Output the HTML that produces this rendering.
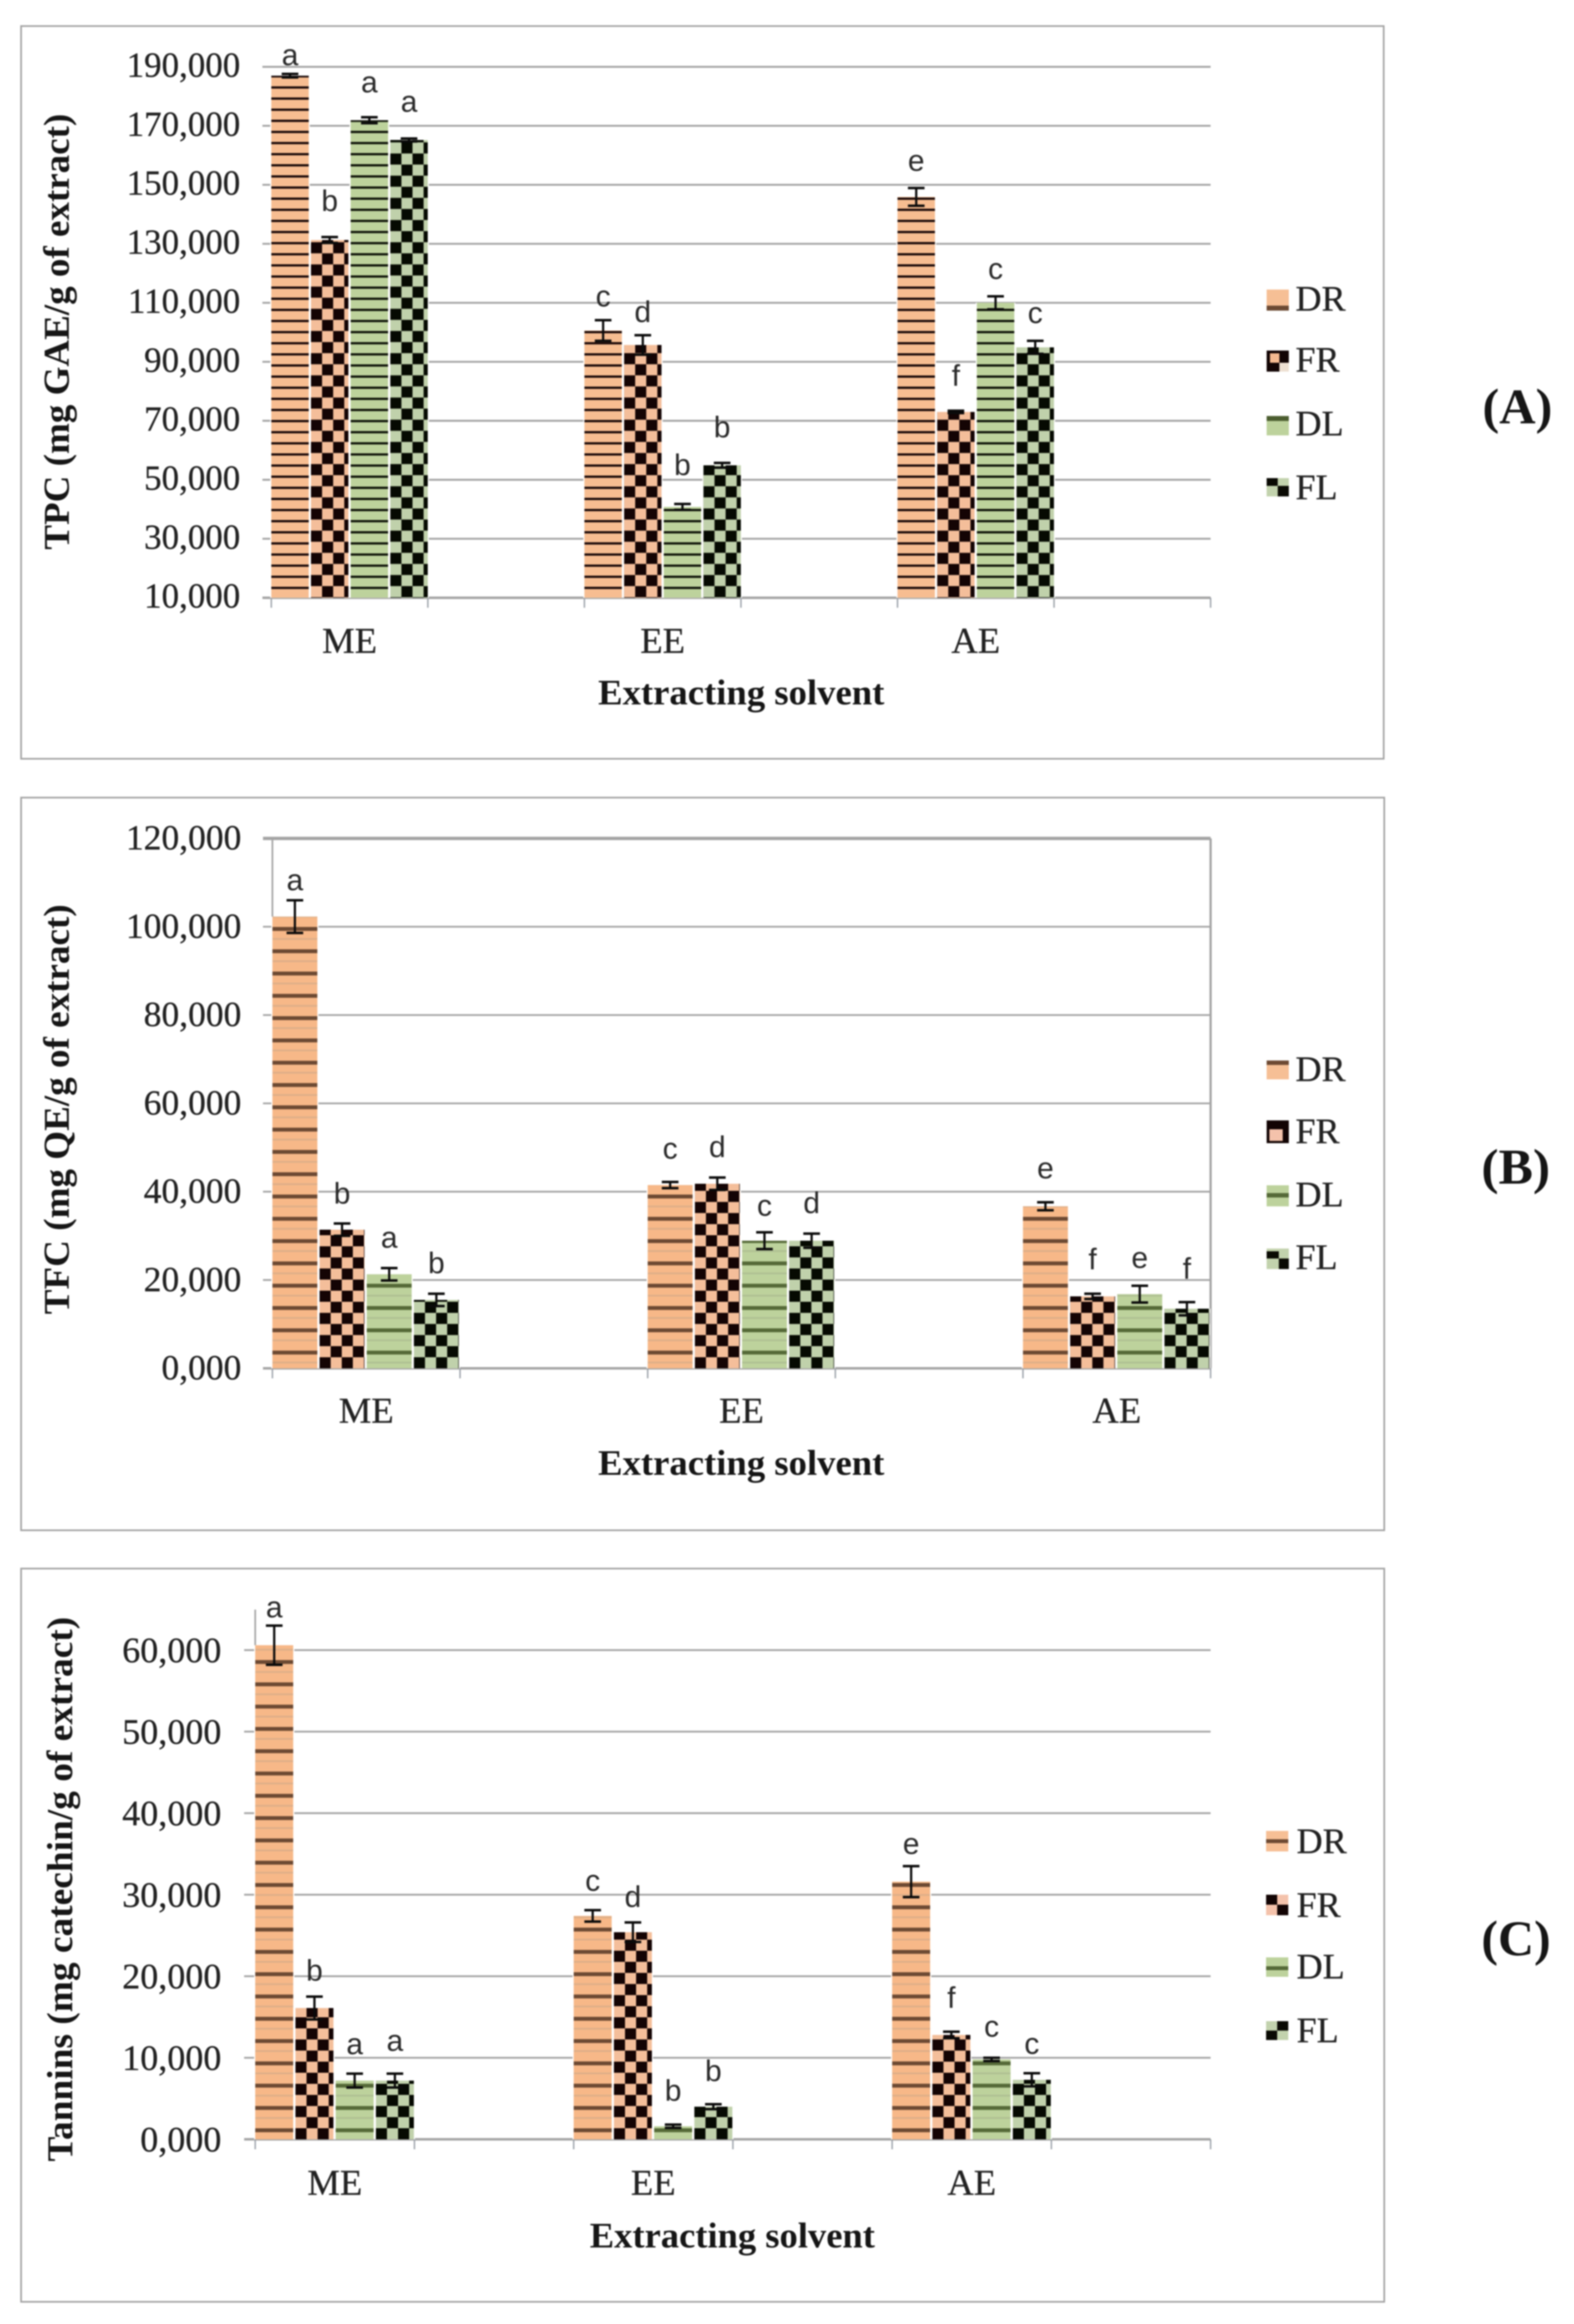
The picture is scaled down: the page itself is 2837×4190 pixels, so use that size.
<!DOCTYPE html>
<html lang="en">
<head>
<meta charset="utf-8">
<title>TPC, TFC and tannins by extracting solvent</title>
<style>
html,body{margin:0;padding:0;background:#fff;}
body{width:2837px;height:4190px;overflow:hidden;}
#figure{display:block;filter:blur(1.3px);}
.serif{font-family:"Liberation Serif",serif;fill:#222;stroke:#222;stroke-width:0.5;}
.bold{font-family:"Liberation Serif",serif;font-weight:bold;fill:#161616;}
.frame{fill:#fff;stroke:#a3a3a3;stroke-width:3;}
</style>
</head>
<body>
<svg id="figure" xmlns="http://www.w3.org/2000/svg" width="2837" height="4190" viewBox="0 0 2837 4190">
  <defs id="defs">
    <pattern id="stripe-a-DR" patternUnits="userSpaceOnUse" x="0" y="155.7" width="20" height="20.05"><rect width="20" height="20.05" fill="#f7bd91"/><rect width="20" height="4" fill="#160606"/></pattern>
    <pattern id="stripe-a-DL" patternUnits="userSpaceOnUse" x="0" y="155.7" width="20" height="20.05"><rect width="20" height="20.05" fill="#bdd29c"/><rect width="20" height="4" fill="#0c1006"/></pattern>
    <pattern id="stripe-b-DR" patternUnits="userSpaceOnUse" x="0" y="1711.5" width="20" height="40.2"><rect width="20" height="40.2" fill="#f7b888"/><rect y="20" width="20" height="3" fill="#dcae88"/><rect width="20" height="7" fill="#6d4a33"/></pattern>
    <pattern id="stripe-b-DL" patternUnits="userSpaceOnUse" x="0" y="1711.5" width="20" height="40.2"><rect width="20" height="40.2" fill="#bdd29c"/><rect y="20" width="20" height="3" fill="#aebf92"/><rect width="20" height="7" fill="#566a38"/></pattern>
    <pattern id="stripe-c-DR" patternUnits="userSpaceOnUse" x="0" y="3033.2" width="20" height="40.2"><rect width="20" height="40.2" fill="#f7b888"/><rect y="20" width="20" height="3" fill="#dcae88"/><rect width="20" height="7" fill="#6d4a33"/></pattern>
    <pattern id="stripe-c-DL" patternUnits="userSpaceOnUse" x="0" y="3033.2" width="20" height="40.2"><rect width="20" height="40.2" fill="#bdd29c"/><rect y="20" width="20" height="3" fill="#aebf92"/><rect width="20" height="7" fill="#566a38"/></pattern>
  </defs>

  <rect class="frame" x="38" y="47" width="2456" height="1321"/>
  <rect class="frame" x="38" y="1438" width="2457" height="1321"/>
  <rect class="frame" x="38" y="2828" width="2457" height="1322"/>

  <g id="panel-a"></g>
  <g id="panel-b"></g>
  <g id="panel-c"></g>

  <text class="bold" font-size="66" transform="translate(124,598) rotate(-90)" text-anchor="middle" textLength="786" lengthAdjust="spacingAndGlyphs">TPC (mg GAE/g of extract)</text>
  <text class="bold" font-size="66" transform="translate(124,2000) rotate(-90)" text-anchor="middle" textLength="739" lengthAdjust="spacingAndGlyphs">TFC (mg QE/g of extract)</text>
  <text class="bold" font-size="66" transform="translate(130,3406) rotate(-90)" text-anchor="middle" textLength="982" lengthAdjust="spacingAndGlyphs">Tannins (mg catechin/g of extract)</text>

  <text class="bold" font-size="65" x="1336" y="1270" text-anchor="middle" textLength="516" lengthAdjust="spacingAndGlyphs">Extracting solvent</text>
  <text class="bold" font-size="65" x="1336" y="2659" text-anchor="middle" textLength="516" lengthAdjust="spacingAndGlyphs">Extracting solvent</text>
  <text class="bold" font-size="65" x="1320" y="4052" text-anchor="middle" textLength="514" lengthAdjust="spacingAndGlyphs">Extracting solvent</text>

  <text class="bold" font-size="90" x="2672" y="763" textLength="126" lengthAdjust="spacingAndGlyphs">(A)</text>
  <text class="bold" font-size="90" x="2670" y="2134" textLength="124" lengthAdjust="spacingAndGlyphs">(B)</text>
  <text class="bold" font-size="90" x="2670" y="3525" textLength="125" lengthAdjust="spacingAndGlyphs">(C)</text>

  <g>
    <g><rect x="2283" y="522" width="40" height="38" fill="#f6bf95"/><rect x="2283" y="551" width="40" height="9" fill="#6d4a33"/><text class="serif" font-size="65" x="2335" y="560">DR</text></g>
    <g><rect x="2283" y="632" width="40" height="38" fill="#120404"/><rect x="2289" y="637" width="17" height="17" fill="#f4b990"/><rect x="2306" y="654" width="17" height="16" fill="#eee0d2"/><text class="serif" font-size="65" x="2335" y="670">FR</text></g>
    <g><rect x="2283" y="750" width="40" height="35" fill="#bdd29c"/><rect x="2283" y="750" width="40" height="9" fill="#4c5e30"/><text class="serif" font-size="65" x="2335" y="785">DL</text></g>
    <g><rect x="2283" y="862" width="40" height="33" fill="#c2d2ad"/><rect x="2283" y="862" width="20" height="14" fill="#0a0a04"/><rect x="2303" y="876" width="20" height="19" fill="#0a0a04"/><text class="serif" font-size="65" x="2335" y="900">FL</text></g>
  </g>
  <g>
    <g><rect x="2283" y="1912" width="40" height="34" fill="#f6bf95"/><rect x="2283" y="1912" width="40" height="8" fill="#6d4a33"/><text class="serif" font-size="65" x="2335" y="1949">DR</text></g>
    <g><rect x="2283" y="2020" width="40" height="41" fill="#120404"/><rect x="2288" y="2036" width="24" height="21" fill="#f4c2ab"/><text class="serif" font-size="65" x="2335" y="2061">FR</text></g>
    <g><rect x="2283" y="2137" width="40" height="38" fill="#bdd29c"/><rect x="2283" y="2151" width="40" height="8" fill="#566a38"/><text class="serif" font-size="65" x="2335" y="2175">DL</text></g>
    <g><rect x="2283" y="2251" width="40" height="37" fill="#c2d2ad"/><rect x="2283" y="2256" width="22" height="13" fill="#0a0a04"/><rect x="2305" y="2269" width="18" height="19" fill="#0a0a04"/><text class="serif" font-size="65" x="2335" y="2288">FL</text></g>
  </g>
  <g>
    <g><rect x="2282" y="3301" width="40" height="37" fill="#f6bf95"/><rect x="2282" y="3316" width="40" height="7" fill="#6d4a33"/><text class="serif" font-size="65" x="2337" y="3341">DR</text></g>
    <g><rect x="2282" y="3416" width="40" height="37" fill="#f4c2ab"/><rect x="2282" y="3416" width="20" height="18" fill="#120404"/><rect x="2302" y="3434" width="20" height="19" fill="#120404"/><text class="serif" font-size="65" x="2337" y="3456">FR</text></g>
    <g><rect x="2282" y="3529" width="40" height="35" fill="#bdd29c"/><rect x="2282" y="3545" width="40" height="7" fill="#566a38"/><text class="serif" font-size="65" x="2337" y="3567">DL</text></g>
    <g><rect x="2282" y="3644" width="40" height="34" fill="#c2d2ad"/><rect x="2302" y="3644" width="20" height="17" fill="#0a0a04"/><rect x="2282" y="3661" width="20" height="17" fill="#0a0a04"/><text class="serif" font-size="65" x="2337" y="3682">FL</text></g>
  </g>
</svg>

<script>
// ---- data ----
const categories = ['ME', 'EE', 'AE'];
const seriesNames = ['DR', 'FR', 'DL', 'FL'];

// Panel A: TPC
const tpcTicks = [10, 30, 50, 70, 90, 110, 130, 150, 170, 190];
const tpcTickLabels = ['10,000', '30,000', '50,000', '70,000', '90,000', '110,000', '130,000', '150,000', '170,000', '190,000'];
const tpcDR = [187.0, 100.6, 145.9];
const tpcFR = [131.3, 95.7, 73.0];
const tpcDL = [171.9, 40.8, 110.0];
const tpcFL = [165.2, 54.9, 94.9];
const tpcErrDR = [0.6, 3.5, 3.0];
const tpcErrFR = [1.0, 3.3, 0.4];
const tpcErrDL = [1.0, 1.0, 2.2];
const tpcErrFL = [0.5, 0.8, 2.2];
const tpcLettersDR = ['a', 'c', 'e'];
const tpcLettersFR = ['b', 'd', 'f'];
const tpcLettersDL = ['a', 'b', 'c'];
const tpcLettersFL = ['a', 'b', 'c'];

// Panel B: TFC
const tfcTicks = [0, 20, 40, 60, 80, 100, 120];
const tfcTickLabels = ['0,000', '20,000', '40,000', '60,000', '80,000', '100,000', '120,000'];
const tfcDR = [102.3, 41.5, 36.7];
const tfcFR = [31.4, 41.8, 16.3];
const tfcDL = [21.3, 28.9, 16.8];
const tfcFL = [15.5, 28.9, 13.5];
const tfcErrDR = [3.7, 0.7, 0.9];
const tfcErrFR = [1.4, 1.4, 0.6];
const tfcErrDL = [1.4, 1.9, 1.9];
const tfcErrFL = [1.4, 1.6, 1.5];
const tfcLettersDR = ['a', 'c', 'e'];
const tfcLettersFR = ['b', 'd', 'f'];
const tfcLettersDL = ['a', 'c', 'e'];
const tfcLettersFL = ['b', 'd', 'f'];

// Panel C: tannins
const tanTicks = [0, 10, 20, 30, 40, 50, 60];
const tanTickLabels = ['0,000', '10,000', '20,000', '30,000', '40,000', '50,000', '60,000'];
const tanDR = [60.6, 27.4, 31.6];
const tanFR = [16.1, 25.4, 12.8];
const tanDL = [7.2, 1.6, 9.8];
const tanFL = [7.2, 4.0, 7.3];
const tanErrDR = [2.4, 0.7, 1.9];
const tanErrFR = [1.4, 1.2, 0.4];
const tanErrDL = [0.85, 0.2, 0.2];
const tanErrFL = [0.85, 0.3, 0.8];
const tanLettersDR = ['a', 'c', 'e'];
const tanLettersFR = ['b', 'd', 'f'];
const tanLettersDL = ['a', 'b', 'c'];
const tanLettersFL = ['a', 'b', 'c'];

// ---- layout (pixels live here, not in the data arrays) ----
const SVGNS = 'http://www.w3.org/2000/svg';
const defsEl = document.getElementById('defs');

const layouts = [
  { key: 'a', target: 'panel-a', ticks: tpcTicks, tickLabels: tpcTickLabels,
    values: [tpcDR, tpcFR, tpcDL, tpcFL], errors: [tpcErrDR, tpcErrFR, tpcErrDL, tpcErrFL],
    letters: [tpcLettersDR, tpcLettersFR, tpcLettersDL, tpcLettersFL],
    letterGap: [[16, 25, 31], [47, 24, 45], [45, 52, 31], [48, 46, 32]],
    vMin: 10, vMax: 190, yBottom: 1077.7, yTop: 120.5, axisTop: 120.5,
    x0: 489, x1: 2182, xTickCount: 6, barPitch: 71.5, checkerPhaseY: 276.7, gridW: 3.4,
    tickLeft: 473, labelRight: 433, labelDy: 18, tickFont: 63, catBaseline: 1177, catFont: 66,
    boxed: false, leftAxis: false, tickH: 18 },
  { key: 'b', target: 'panel-b', ticks: tfcTicks, tickLabels: tfcTickLabels,
    values: [tfcDR, tfcFR, tfcDL, tfcFL], errors: [tfcErrDR, tfcErrFR, tfcErrDL, tfcErrFL],
    letters: [tfcLettersDR, tfcLettersFR, tfcLettersDL, tfcLettersFL],
    letterGap: [[18, 42, 43], [36, 37, 44], [37, 30, 32], [37, 37, 42]],
    vMin: 0, vMax: 120, yBottom: 2467, yTop: 1511.6, axisTop: 1511.6,
    x0: 491, x1: 2182, xTickCount: 5, barPitch: 85, checkerPhaseY: 2447, gridW: 3.2,
    tickLeft: 474, labelRight: 435, labelDy: 20, tickFont: 64, catBaseline: 2565, catFont: 66,
    boxed: true, leftAxis: true, tickH: 18 },
  { key: 'c', target: 'panel-c', ticks: tanTicks, tickLabels: tanTickLabels,
    values: [tanDR, tanFR, tanDL, tanFL], errors: [tanErrDR, tanErrFR, tanErrDL, tanErrFL],
    letters: [tanLettersDR, tanLettersFR, tanLettersDL, tanLettersFL],
    letterGap: [[15, 35, 22], [29, 28, 43], [35, 43, 38], [41, 42, 35]],
    vMin: 0, vMax: 60, yBottom: 3857, yTop: 2975, axisTop: 2902,
    x0: 460, x1: 2182, xTickCount: 6, barPitch: 72.5, checkerPhaseY: 3837, gridW: 3.2,
    tickLeft: 440, labelRight: 399, labelDy: 22, tickFont: 65, catBaseline: 3957, catFont: 66,
    boxed: false, leftAxis: true, tickH: 18 }
];

function make(tag, attrs) {
  const el = document.createElementNS(SVGNS, tag);
  for (const k in attrs) el.setAttribute(k, attrs[k]);
  return el;
}

function yAxis(p, v) {
  return p.yBottom + (v - p.vMin) / (p.vMax - p.vMin) * (p.yTop - p.yBottom);
}
function tickStep(p) {
  return (p.x1 - p.x0) / p.xTickCount;
}
function groupX(p, catIndex) {
  return p.x0 + catIndex * 2 * tickStep(p);
}
function barX(p, catIndex, seriesIndex) {
  return groupX(p, catIndex) + seriesIndex * p.barPitch;
}

function checkerFill(p, series, cat) {
  const id = 'checker-' + p.key + '-' + series + '-' + cat;
  const light = series === 1 ? '#f4be9a' : '#c0d1ab';
  const dark = series === 1 ? '#140404' : '#060a02';
  const pat = make('pattern', { id: id, patternUnits: 'userSpaceOnUse', x: barX(p, cat, series), y: p.checkerPhaseY, width: 40, height: 40 });
  pat.appendChild(make('rect', { width: 40, height: 40, fill: light }));
  pat.appendChild(make('rect', { width: 20, height: 20, fill: dark }));
  pat.appendChild(make('rect', { x: 20, y: 20, width: 20, height: 20, fill: dark }));
  defsEl.appendChild(pat);
  return 'url(#' + id + ')';
}

function drawPanel(p) {
  const root = document.getElementById(p.target);
  const step = tickStep(p);

  // gridlines, y ticks and labels
  p.ticks.forEach(function (v, i) {
    const y = yAxis(p, v);
    const isTopBoxed = p.boxed && i === p.ticks.length - 1;
    const grid = make('line', { x1: p.tickLeft, x2: p.x1, y1: y, y2: y, stroke: '#a4a4a4', 'stroke-width': isTopBoxed ? 6 : (i === 0 ? 4.5 : p.gridW) });
    
    
    root.appendChild(grid);

    const label = make('text', { x: p.labelRight, y: y + p.labelDy, 'text-anchor': 'end', 'font-size': p.tickFont, class: 'serif' });
    label.textContent = p.tickLabels[i];
    
    
    root.appendChild(label);
  });

  // axis verticals
  if (p.leftAxis) {
    const axisLine = make('line', { x1: p.x0, x2: p.x0, y1: p.axisTop, y2: p.yBottom, stroke: '#a4a4a4', 'stroke-width': 3 });
    
    
    root.appendChild(axisLine);
  }
  if (p.boxed) {
    const rightLine = make('line', { x1: p.x1, x2: p.x1, y1: p.axisTop, y2: p.yBottom, stroke: '#a4a4a4', 'stroke-width': 4 });
    
    
    root.appendChild(rightLine);
  }

  // x ticks
  for (let t = 0; t <= p.xTickCount; t++) {
    const tx = p.x0 + t * step;
    const tick = make('line', { x1: tx, x2: tx, y1: p.yBottom, y2: p.yBottom + p.tickH, stroke: '#9aa0a8', 'stroke-width': 2.5 });
    
    
    root.appendChild(tick);
  }

  // bars, error bars, letters
  categories.forEach(function (cat, c) {
    const catLabel = make('text', { x: groupX(p, c) + step / 2, y: p.catBaseline, 'text-anchor': 'middle', 'font-size': p.catFont, class: 'serif' });
    catLabel.textContent = cat;
    
    
    root.appendChild(catLabel);

    seriesNames.forEach(function (name, s) {
      const val = p.values[s][c];
      const err = p.errors[s][c];
      const x = barX(p, c, s);
      const w = p.barPitch - 4;
      const top = yAxis(p, val);
      const h = p.yBottom - top;

      const gap = make('rect', { x: x - 2, y: top, width: w + 4, height: h, fill: '#fff' });
      
      
      root.appendChild(gap);

      const fill = (s % 2 === 0) ? 'url(#stripe-' + p.key + '-' + name + ')' : checkerFill(p, s, c);
      const bar = make('rect', { x: x, y: top, width: w, height: h, fill: fill });
      
      
      root.appendChild(bar);

      const cx = x + w / 2;
      const yHi = yAxis(p, val + err);
      const yLo = yAxis(p, val - err);
      const stem = make('line', { x1: cx, x2: cx, y1: yHi, y2: yLo, stroke: '#0a0a0a', 'stroke-width': 4 });
      
      
      root.appendChild(stem);

      const capHi = make('line', { x1: cx - 15, x2: cx + 15, y1: yHi, y2: yHi, stroke: '#0a0a0a', 'stroke-width': 4.5 });
      
      
      root.appendChild(capHi);

      const capLo = make('line', { x1: cx - 15, x2: cx + 15, y1: yLo, y2: yLo, stroke: '#0a0a0a', 'stroke-width': 4.5 });
      
      
      root.appendChild(capLo);

      const letter = make('text', { x: cx, y: yHi - p.letterGap[s][c], 'text-anchor': 'middle', 'font-size': 54, 'font-family': '"Liberation Sans", sans-serif', fill: '#2a2a2a' });
      letter.textContent = p.letters[s][c];
      
      
      root.appendChild(letter);
    });
  });
}

layouts.forEach(drawPanel);
</script>
</body>
</html>
